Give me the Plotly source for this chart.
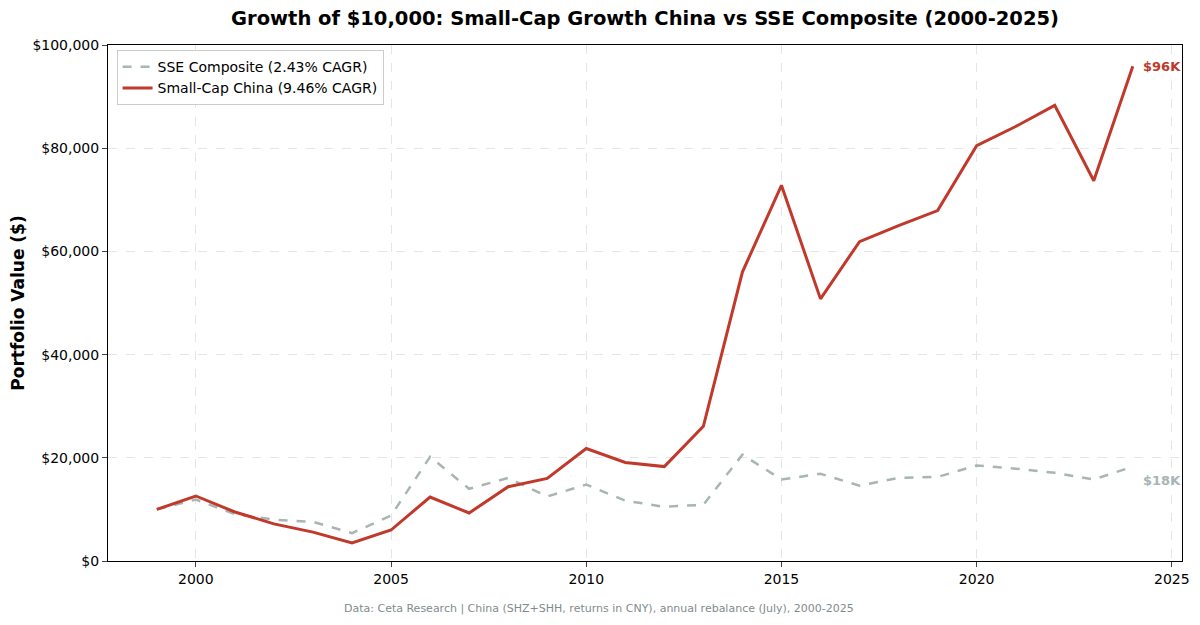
import plotly.graph_objects as go

years = list(range(1999, 2025))
small_cap = [10000, 12600, 9500, 7200, 5600, 3500, 6000, 12400, 9300, 14400, 16000, 21800, 19100, 18300, 26100,
             56000, 72800, 50800, 61900, 65000, 67900, 80500, 84200, 88300, 73700, 95900]
sse = [10000, 11900, 9100, 8000, 7600, 5400, 8800, 20200, 14000, 16100, 12500, 14800, 11700, 10500, 10900,
       20600, 15800, 16900, 14600, 16100, 16300, 18500, 17900, 17100, 15800, 18300]
x_ticks = [2000, 2005, 2010, 2015, 2020, 2025]
y_ticks = [0, 20000, 40000, 60000, 80000, 100000]

fig = go.Figure()
fig.add_trace(go.Scatter(x=years, y=sse, mode="lines", name="SSE Composite (2.43% CAGR)",
                         line=dict(color="#A8B5B3", width=2.5, dash="dash")))
fig.add_trace(go.Scatter(x=years, y=small_cap, mode="lines", name="Small-Cap China (9.46% CAGR)",
                         line=dict(color="#C0392B", width=3)))
fig.add_annotation(x=years[-1], y=small_cap[-1], text="<b>$96K</b>", showarrow=False, xanchor="left",
                   xshift=8, yshift=0, font=dict(color="#C0392B", size=13))
fig.add_annotation(x=years[-1], y=sse[-1], text="<b>$18K</b>", showarrow=False, xanchor="left",
                   xshift=8, yshift=-14, font=dict(color="#A8B5B3", size=13))
fig.add_annotation(x=0.457, y=-0.093, xref="paper", yref="paper", showarrow=False,
                   text="Data: Ceta Research | China (SHZ+SHH, returns in CNY), annual rebalance (July), 2000-2025",
                   font=dict(color="#7F8C8D", size=11), yanchor="middle")

fig.update_layout(
    width=1184, height=609, plot_bgcolor="white", paper_bgcolor="white",
    font=dict(family="DejaVu Sans", color="black", size=14),
    title=dict(text="<b>Growth of $10,000: Small-Cap Growth China vs SSE Composite (2000-2025)</b>",
               x=0.5, xref="paper", xanchor="center", y=0.983, yanchor="middle", font=dict(size=19.5)),
    margin=dict(l=100, r=10, t=37, b=56, pad=0),
    legend=dict(x=0.008, y=0.99, xanchor="left", yanchor="top", bgcolor="white",
                bordercolor="#CCCCCC", borderwidth=1, font=dict(size=14)),
    showlegend=True,
)
fig.update_xaxes(range=[1997.75, 2025.26], tickvals=x_ticks, showgrid=True, gridcolor="#E5E5E5", griddash="dash",
                 showline=True, linecolor="black", mirror=True, ticks="outside", zeroline=False, automargin=False)
fig.update_yaxes(range=[0, 100000], tickvals=y_ticks, tickformat="$,.0f", showgrid=True, gridcolor="#E5E5E5",
                 griddash="dash", showline=True, linecolor="black", mirror=True, ticks="outside", zeroline=False,
                 automargin=False, title=dict(text="<b>Portfolio Value ($)</b>", font=dict(size=17), standoff=12))
fig.write_html("out.html")
